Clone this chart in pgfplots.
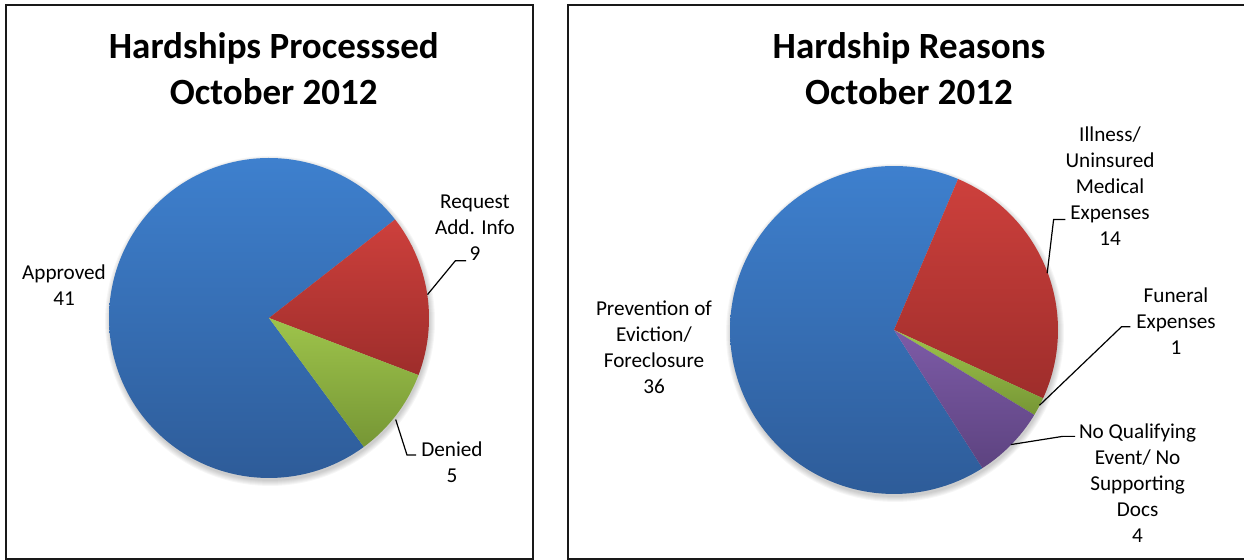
\documentclass[border=0pt]{standalone}
\usepackage{pgfplots}
\pgfplotsset{compat=1.18}
\usepackage{fontspec}
\setmainfont{Carlito}

\definecolor{blueT}{HTML}{3E80CE}
\definecolor{blueB}{HTML}{2E5C99}
\definecolor{redT}{HTML}{CD403C}
\definecolor{redB}{HTML}{9E2D2B}
\definecolor{greenT}{HTML}{9EC44B}
\definecolor{greenB}{HTML}{769635}
\definecolor{purpT}{HTML}{7D5BA7}
\definecolor{purpB}{HTML}{5D4380}

% ---- data ----
\def\Approved{41}\def\Request{9}\def\Denied{5}
\def\Prevention{36}\def\Illness{14}\def\Funeral{1}\def\NoQual{4}

\pgfmathsetmacro{\Ltot}{\Approved+\Request+\Denied}
\pgfmathsetmacro{\LA}{38}
\pgfmathsetmacro{\LB}{\LA-360*\Request/\Ltot}
\pgfmathsetmacro{\LC}{\LB-360*\Denied/\Ltot}
\pgfmathsetmacro{\LD}{\LA+360*\Approved/\Ltot}

\pgfmathsetmacro{\Rtot}{\Prevention+\Illness+\Funeral+\NoQual}
\pgfmathsetmacro{\RA}{67}
\pgfmathsetmacro{\RB}{\RA-360*\Illness/\Rtot}
\pgfmathsetmacro{\RC}{\RB-360*\Funeral/\Rtot}
\pgfmathsetmacro{\RD}{\RC-360*\NoQual/\Rtot}
\pgfmathsetmacro{\RE}{\RA+360*\Prevention/\Rtot}

\newcommand{\slice}[7]{%
  \addplot[draw=none, top color=#6, bottom color=#7, domain=#4:#5, samples=150]
    ({#1+#3*cos(x)},{#2+#3*sin(x)}) -- (#1,#2) -- cycle;
}
\newcommand{\shadow}[3]{%
  \pgfplotsinvokeforeach{0,1,2,3,4,5}{%
    \addplot[draw=none, fill=black, fill opacity=0.035, domain=0:360, samples=120]
      ({#1+1+(#3+##1)*cos(x)},{#2-3+(#3+##1)*sin(x)}) -- cycle;
  }%
}

\tikzset{lbl/.style={align=center, font=\fontsize{10.6}{13}\selectfont, inner sep=0pt},
         ttl/.style={anchor=base, font=\fontsize{18.5}{23}\selectfont\bfseries, inner sep=0pt}}

\begin{document}
\begin{tikzpicture}
\begin{axis}[
  scale only axis, width=622pt, height=280pt,
  xmin=0, xmax=1244, ymin=0, ymax=560,
  hide axis, clip=false, no markers,
  at={(0,0)}, anchor=south west,
]
% panels
\draw[line width=0.8pt, black!90] (6,1) rectangle (533,555);
\draw[line width=0.8pt, black!90] (1260,1) -- (568,1) -- (568,555) -- (1260,555);

% left pie
\shadow{269}{242}{160}
\slice{269}{242}{160}{\LA}{\LD}{blueT}{blueB}
\slice{269}{242}{160}{\LB}{\LA}{redT}{redB}
\slice{269}{242}{160}{\LC}{\LB}{greenT}{greenB}

% right pie
\shadow{894}{230}{164}
\slice{894}{230}{164}{\RA}{\RE}{blueT}{blueB}
\slice{894}{230}{164}{\RB}{\RA}{redT}{redB}
\slice{894}{230}{164}{\RC}{\RB}{greenT}{greenB}
\slice{894}{230}{164}{\RD}{\RC}{purpT}{purpB}

% leader lines
\addplot[black, line width=0.6pt] coordinates {(427.5,265.4) (455.4,299.3) (466,299.3)};
\addplot[black, line width=0.6pt] coordinates {(395.7,140.4) (407,105) (416,105)};
\addplot[black, line width=0.6pt] coordinates {(1047.2,286.8) (1053.6,340.4) (1065.4,340.4)};
\addplot[black, line width=0.6pt] coordinates {(1039.4,154.6) (1121.5,233.2) (1130.4,233.2)};
\addplot[black, line width=0.6pt] coordinates {(1010.8,115.4) (1062.6,123.6) (1075,123.6)};

% titles
\node[ttl] at (273.8,501) {Hardships Processsed};
\node[ttl] at (273.8,455) {October 2012};
\node[ttl] at (909,501) {Hardship Reasons};
\node[ttl] at (909,455) {October 2012};

% labels
\node[lbl] at (64,275) {Approved\\41};
\node[lbl] at (475,332) {Request\\Add. Info\\9};
\node[lbl] at (452,97.5) {Denied\\5};
\node[lbl] at (654,213) {Prevention of\\Eviction/\\Foreclosure\\36};
\node[lbl] at (1110,374) {Illness/\\Uninsured\\Medical\\Expenses\\14};
\node[lbl] at (1176,238.5) {Funeral\\Expenses\\1};
\node[lbl] at (1137.6,77) {No Qualifying\\Event/ No\\Supporting\\Docs\\4};
\end{axis}
\pgfresetboundingbox
\useasboundingbox (0,0) rectangle (622pt,280pt);
\end{tikzpicture}
\end{document}
